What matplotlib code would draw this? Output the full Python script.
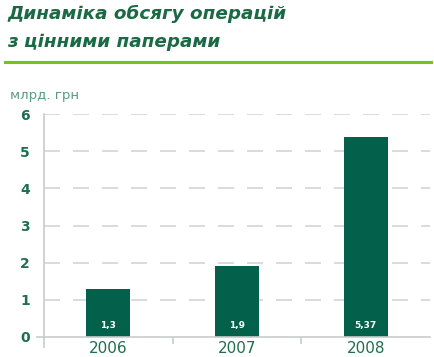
import matplotlib
matplotlib.use("Agg")
import matplotlib.pyplot as plt

years = ["2006", "2007", "2008"]
values = [1.3, 1.9, 5.37]
value_labels = ["1,3", "1,9", "5,37"]
yticks = [0, 1, 2, 3, 4, 5, 6]

title_lines = ["Динаміка обсягу операцій", "з цінними паперами"]
unit_label = "млрд. грн"

bar_color = "#03604a"
text_green = "#1f6e50"
title_green = "#1b6a45"
grid_color = "#d3d6d5"
axis_color = "#c8cccb"

fig = plt.figure(figsize=(4.34, 3.57), dpi=100)
fig.patch.set_facecolor("white")

ax = fig.add_axes([44/434, 20/357, 386/434, 223/357])
x = list(range(len(years)))
ax.bar(x, values, width=0.34, color=bar_color, zorder=3)
ax.set_xlim(-0.5, 2.5)
ax.set_ylim(0, 6)

for v in yticks[1:]:
    ax.axhline(v, color=grid_color, lw=1.2, ls=(0, (9.6, 7.8)), zorder=1)

for s in ["top", "right", "bottom"]:
    ax.spines[s].set_visible(False)
ax.spines["left"].set_color(axis_color)
ax.spines["left"].set_linewidth(1.2)
ax.plot([-0.5, -0.5], [0, -0.27], color=axis_color, lw=1.2, clip_on=False, zorder=4)
ax.plot([-0.555, 2.5], [0, 0], color=axis_color, lw=1.2, clip_on=False, zorder=4)

ax.set_yticks(yticks)
ax.set_yticklabels([str(t) for t in yticks], fontsize=10, fontweight="bold", color=text_green)
ax.tick_params(axis="y", length=0, pad=10)

ax.set_xticks(x)
ax.set_xticklabels(years, fontsize=11, color=text_green)
ax.set_xticks([0.5, 1.5], minor=True)
ax.tick_params(axis="x", which="major", length=0, pad=3)
ax.tick_params(axis="x", which="minor", length=5, color=axis_color, width=1.2)

for xi, v, lab in zip(x, values, value_labels):
    ax.text(xi, 0.3, lab, ha="center", va="center", color="white",
            fontsize=6.5, fontweight="bold", zorder=5)

fig.text(7/434, 1 - 14/357, title_lines[0], fontsize=13.2, fontweight="bold",
         fontstyle="italic", color=title_green, ha="left", va="center")
fig.text(7/434, 1 - 42/357, title_lines[1], fontsize=13.2, fontweight="bold",
         fontstyle="italic", color=title_green, ha="left", va="center")
fig.add_artist(plt.Line2D([5/434, 431/434], [1 - 62/357, 1 - 62/357],
                          color="#7cc020", lw=2.2))
fig.text(10/434, 1 - 95/357, unit_label, fontsize=9.5, color="#5b9b82",
         ha="left", va="center")

fig.savefig("out.png", dpi=100, facecolor="white")
